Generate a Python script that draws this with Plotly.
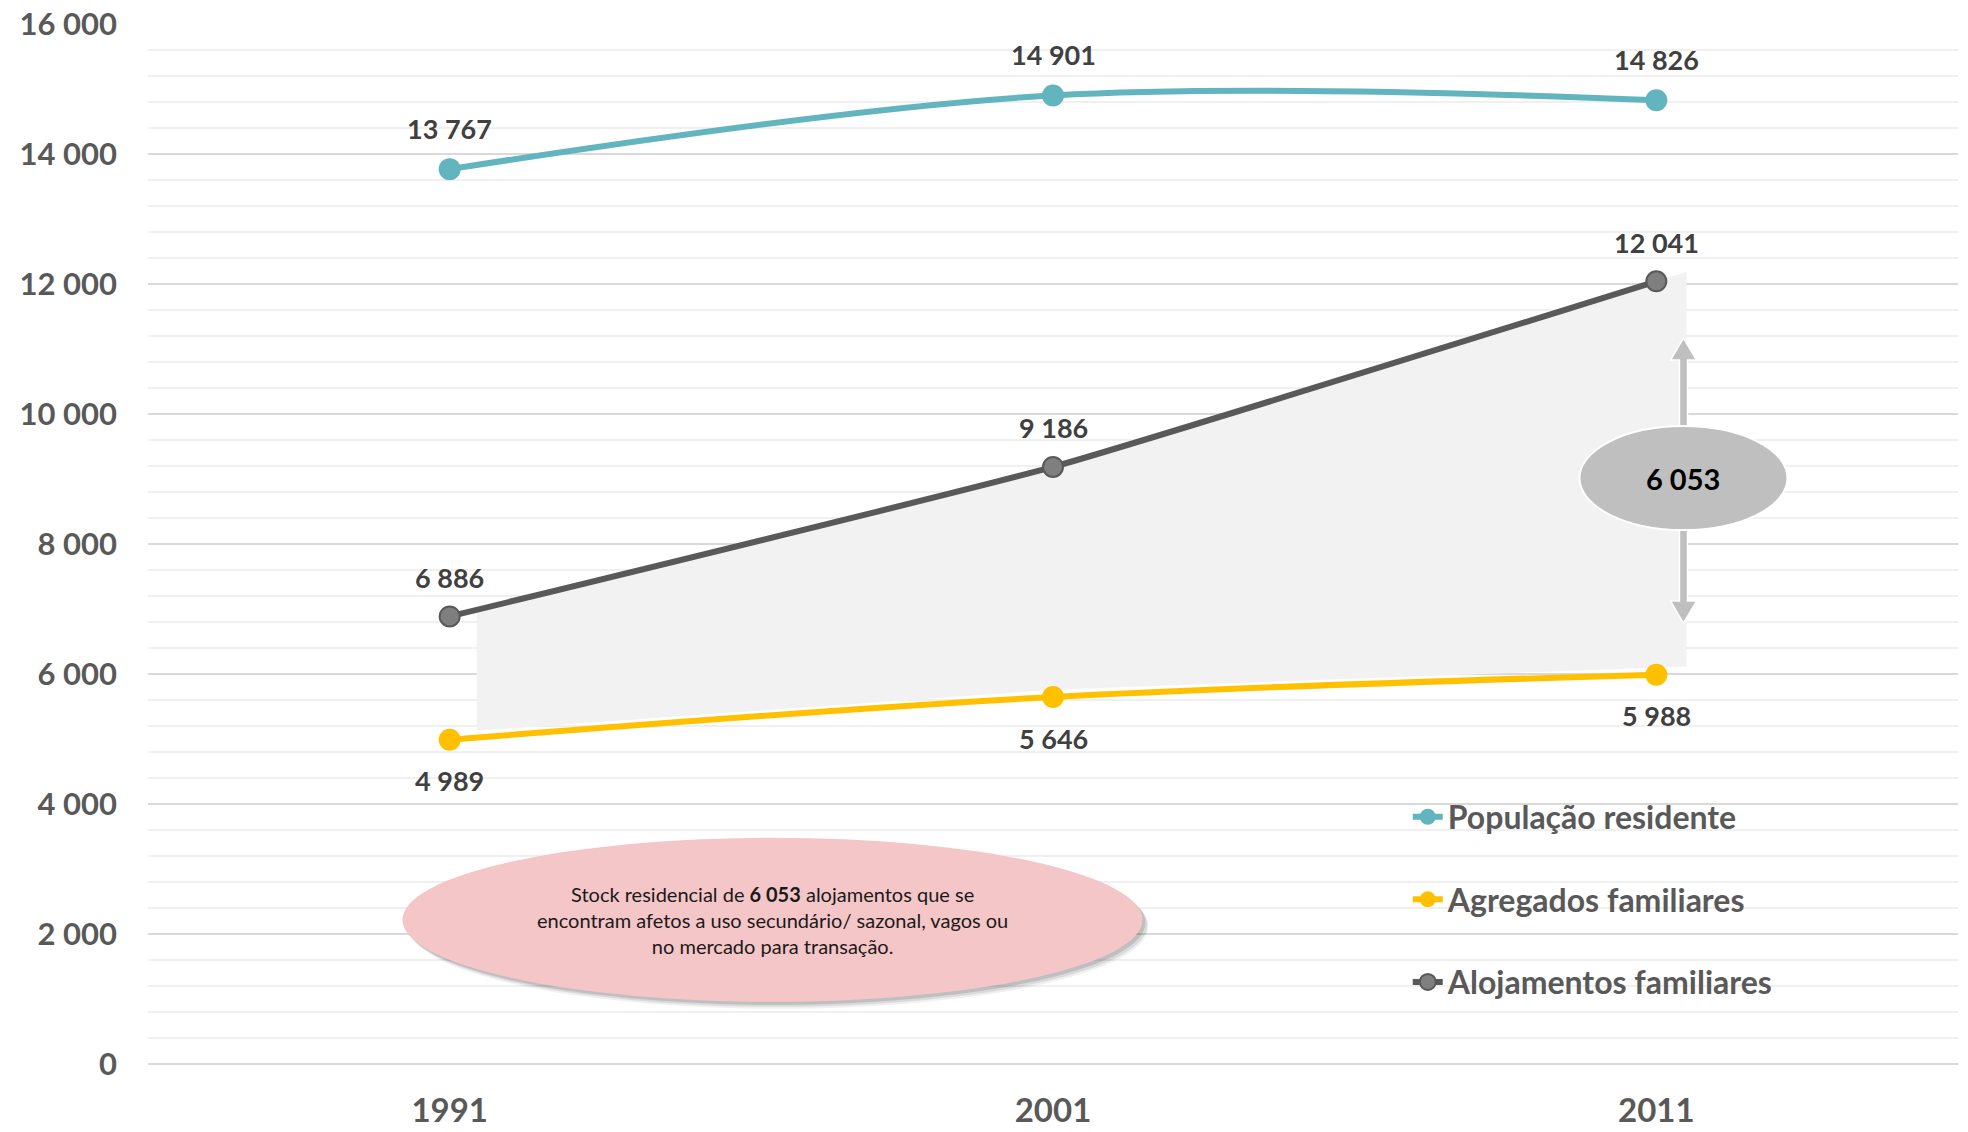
import plotly.graph_objects as go

# ---- data ----
years = ["1991", "2001", "2011"]
populacao = [13767, 14901, 14826]
agregados = [4989, 5646, 5988]
alojamentos = [6886, 9186, 12041]
y_ticks = [0, 2000, 4000, 6000, 8000, 10000, 12000, 14000, 16000]

TEAL = "#62b5bf"
YELLOW = "#ffc000"
DGRAY = "#595959"
FONT = "Lato"

def fmt(v):
    return f"{v:,}".replace(",", " ")

xs = list(range(len(years)))
fig = go.Figure()

# shaded area between alojamentos and agregados
x0, x1 = 0.045, 2.05
def lin(arr, x):
    if x <= 1:
        return arr[0] + (arr[1] - arr[0]) * x
    return arr[1] + (arr[2] - arr[1]) * (x - 1)
off = 110
poly_x = [x0, 1, 2, x1, x1, 2, 1, x0]
poly_y = [lin(alojamentos, x0), alojamentos[1], alojamentos[2], lin(alojamentos, x1),
          lin(agregados, x1) + off, agregados[2] + off, agregados[1] + off, lin(agregados, x0) + off]
fig.add_trace(go.Scatter(x=poly_x, y=poly_y, fill="toself", fillcolor="#f2f2f2",
                         mode="lines", line=dict(width=0), hoverinfo="skip", showlegend=False))

series = [
    ("População residente", populacao, TEAL, dict(color=TEAL, size=22), 1),
    ("Agregados familiares", agregados, YELLOW, dict(color=YELLOW, size=22), 1),
    ("Alojamentos familiares", alojamentos, DGRAY, dict(color="#7f7f7f", size=20, line=dict(color=DGRAY, width=2)), 0.4),
]
for i, (name, vals, col, mk, sm) in enumerate(series):
    fig.add_trace(go.Scatter(x=xs, y=vals, name=name, mode="lines+markers",
                             line=dict(color=col, width=6, shape="spline", smoothing=sm),
                             marker=mk, legendgroup=f"g{i}"))

annotations = []
for vals, shift in [(populacao, 41), (alojamentos, 39), (agregados, -41)]:
    for x, v in zip(xs, vals):
        annotations.append(dict(x=x, y=v, text=fmt(v), showarrow=False, yshift=shift,
                                font=dict(family=FONT, size=27, color="#404040", weight="bold")))

diff = alojamentos[2] - agregados[2]
mid = (alojamentos[2] + agregados[2]) / 2
ax = 2.045
annotations.append(dict(x=ax, y=mid, text=fmt(diff), showarrow=False,
                        font=dict(family=FONT, size=29, color="#000000", weight="bold")))

annotations.append(dict(x=0.535, y=2219, showarrow=False, align="center",
                        text=("Stock residencial de <b>" + fmt(diff) + "</b> alojamentos que se<br>"
                              "encontram afetos a uso secundário/ sazonal, vagos ou<br>"
                              "no mercado para transação."),
                        font=dict(family=FONT, size=20, color="#1a1a1a")))

shapes = []
# pink ellipse with soft shadow
for dx, dy, a in [(6, -7, 0.06), (5, -5, 0.09), (3, -3, 0.12)]:
    shapes.append(dict(type="circle", xref="x", yref="y", xsizemode="pixel", ysizemode="pixel",
                       xanchor=0.535, yanchor=2219, x0=-370 + dx, x1=370 + dx,
                       y0=-82 + dy, y1=82 + dy,
                       fillcolor=f"rgba(0,0,0,{a})", line=dict(width=0), layer="above"))
shapes.append(dict(type="circle", xref="x", yref="y", xsizemode="pixel", ysizemode="pixel",
                   xanchor=0.535, yanchor=2219, x0=-370, x1=370, y0=-82, y1=82,
                   fillcolor="#f5c6c7", line=dict(width=0), layer="above"))
# double arrow
shapes.append(dict(type="path", xref="x", yref="y", xsizemode="pixel", ysizemode="pixel",
                   xanchor=ax, yanchor=mid,
                   path="M -4,118 L -13,118 L 0,140 L 13,118 L 4,118 L 4,-123 L 13,-123 L 0,-145 L -13,-123 L -4,-123 Z",
                   fillcolor="#bfbfbf", line=dict(color="white", width=1.5), layer="above"))
# gray ellipse
shapes.append(dict(type="circle", xref="x", yref="y", xsizemode="pixel", ysizemode="pixel",
                   xanchor=ax, yanchor=mid, x0=-104, x1=104, y0=-52, y1=52,
                   fillcolor="#bfbfbf", line=dict(color="white", width=2), layer="above"))

fig.update_layout(
    width=1968, height=1132,
    margin=dict(l=148, r=10, t=24, b=68, autoexpand=False),
    paper_bgcolor="white", plot_bgcolor="white",
    separators=", ",
    showlegend=True,
    legend=dict(x=0.696, y=0.264, xanchor="left", yanchor="top",
                bgcolor="rgba(0,0,0,0)", traceorder="grouped", tracegroupgap=38,
                font=dict(family=FONT, size=32, color=DGRAY, weight="bold")),
    annotations=annotations,
    shapes=shapes,
    xaxis=dict(range=[-0.5, 2.5], tickvals=xs, ticktext=years, showgrid=False, zeroline=False,
               showline=False, ticks="", ticklabelstandoff=24, automargin=False,
               tickfont=dict(family=FONT, size=33, color=DGRAY, weight="bold")),
    yaxis=dict(range=[0, 16000], tickvals=y_ticks, tickformat=",d", showgrid=True,
               gridcolor="#d9d9d9", gridwidth=1.5, zeroline=True, zerolinecolor="#d9d9d9",
               zerolinewidth=1.5, showline=False, ticks="", ticklabelstandoff=30, automargin=False,
               minor=dict(dtick=400, showgrid=True, gridcolor="#f0f0f0", gridwidth=1.5),
               tickfont=dict(family=FONT, size=31, color=DGRAY, weight="bold")),
)

fig.write_html("out.html")
